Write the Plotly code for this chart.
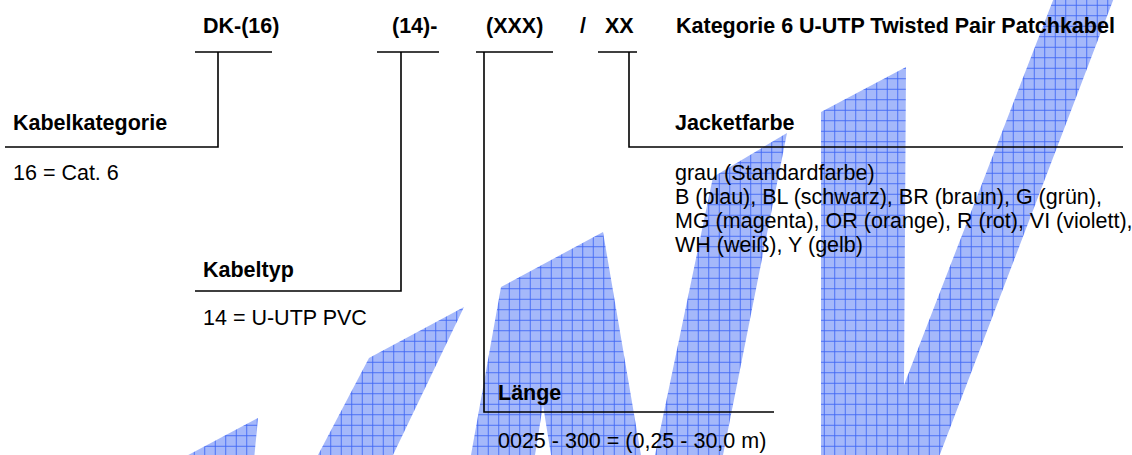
import plotly.graph_objects as go

W, H = 1132, 455
FONT = "Liberation Sans, Arial, sans-serif"

# ---- header codes (bold, top row) ----
header_text = ["DK-(16)", "(14)-", "(XXX)", "/", "XX", "Kategorie 6 U-UTP Twisted Pair Patchkabel"]
header_x = [201, 390, 484, 578, 603, 674]
header_y = 26

# ---- bold section labels ----
label_text = ["Kabelkategorie", "Kabeltyp", "Länge", "Jacketfarbe"]
label_x = [11, 201, 496, 673]
label_y = [123, 270, 393, 123]

# ---- descriptions (regular) ----
desc_text = ["16 = Cat. 6", "14 = U-UTP PVC", "0025 - 300 = (0,25 - 30,0 m)",
             "grau (Standardfarbe)",
             "B (blau), BL (schwarz), BR (braun), G (grün),",
             "MG (magenta), OR (orange), R (rot), VI (violett),",
             "WH (weiß), Y (gelb)"]
desc_x = [11, 201, 496, 673, 673, 673, 673]
desc_y = [173, 318, 441, 173, 197, 221, 245]

# ---- connector lines (polylines) ----
conn_x = [[195, 272], [218, 218, 5],
          [377, 439], [401, 401, 195],
          [476, 553], [484, 484, 774],
          [598, 637], [629, 629, 1123]]
conn_y = [[52, 52], [52, 147, 147],
          [52, 52], [52, 291, 291],
          [52, 52], [52, 412, 412],
          [52, 52], [52, 147, 147]]

# ---- watermark logo polygons ----
logo_x = [[160, 258, 253],
          [318, 369, 464, 393],
          [471, 501, 603, 641, 551, 543, 535],
          [655, 713, 787, 723],
          [821, 821, 906, 904, 1057, 1117, 934]]
logo_y = [[470, 418, 470],
          [455, 358, 307, 455],
          [455, 287, 232, 455, 455, 405, 455],
          [455, 177, 133, 455],
          [470, 112, 67, 385, -10, -10, 470]]

fig = go.Figure()

for xs, ys in zip(logo_x, logo_y):
    fig.add_trace(go.Scatter(
        x=xs + [xs[0]], y=ys + [ys[0]], mode="lines", fill="toself",
        line=dict(width=0, color="rgba(0,0,0,0)"),
        fillcolor="#a3b6fa",
        fillpattern=dict(shape="+", size=10.5, solidity=0.16,
                         fgcolor="#3f66f3", bgcolor="#a5b8fa", fillmode="replace"),
        hoverinfo="skip", showlegend=False))

for xs, ys in zip(conn_x, conn_y):
    fig.add_trace(go.Scatter(x=xs, y=ys, mode="lines",
                             line=dict(color="black", width=1.6),
                             hoverinfo="skip", showlegend=False))

ann = []
for t, x in zip(header_text, header_x):
    ann.append(dict(text=f"<b>{t}</b>", x=x, y=header_y))
for t, x, y in zip(label_text, label_x, label_y):
    ann.append(dict(text=f"<b>{t}</b>", x=x, y=y))
for t, x, y in zip(desc_text, desc_x, desc_y):
    ann.append(dict(text=t, x=x, y=y))
for a in ann:
    a.update(xref="x", yref="y", xanchor="left", yanchor="middle", showarrow=False,
             font=dict(family=FONT, size=21.5, color="black"))

fig.update_layout(
    width=W, height=H, margin=dict(l=0, r=0, t=0, b=0),
    paper_bgcolor="white", plot_bgcolor="white",
    xaxis=dict(range=[0, W], visible=False, fixedrange=True),
    yaxis=dict(range=[H, 0], visible=False, fixedrange=True),
    annotations=ann, showlegend=False)

fig.write_html("out.html", config={"displayModeBar": False},
               post_script="document.body.style.margin='0';document.body.style.overflow='hidden';")
